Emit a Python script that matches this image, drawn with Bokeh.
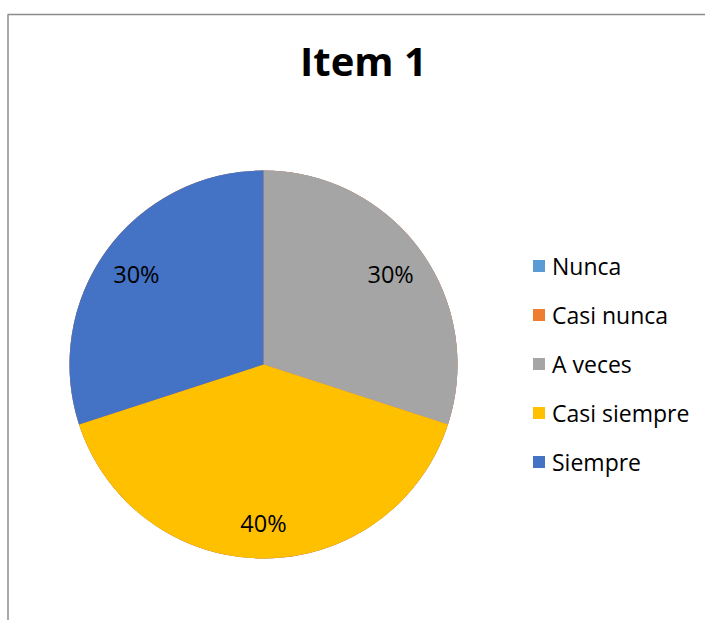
import numpy as np
from bokeh.plotting import figure
from bokeh.models import ColumnDataSource, Range1d, Legend, LegendItem, Label
from bokeh.core.properties import value
from bokeh.embed import file_html
from bokeh.resources import INLINE

# ---- data ----
categories = ["Nunca", "Casi nunca", "A veces", "Casi siempre", "Siempre"]
percents = [0, 0, 30, 40, 30]
colors = ["#5B9BD5", "#ED7D31", "#A5A5A5", "#FFC000", "#4472C4"]
chart_title = "Item 1"

# ---- layout ----
W, H = 705, 620
CX, CY, R = 263, H - 364, 194
LABEL_R = 0.81

vals = np.array(percents, dtype=float)
frac = vals / vals.sum()
cum_after = np.cumsum(frac)
cum_before = cum_after - frac
start = np.pi / 2 - 2 * np.pi * cum_before
end = np.pi / 2 - 2 * np.pi * cum_after
mid = (start + end) / 2

src = ColumnDataSource(dict(cat=categories, val=percents, color=colors,
                            start=start.tolist(), end=end.tolist()))

p = figure(width=W, height=H, x_range=Range1d(0, W), y_range=Range1d(0, H),
           output_backend="svg", toolbar_location=None, min_border=0,
           x_axis_type=None, y_axis_type=None)
p.grid.visible = False
p.outline_line_color = None
p.background_fill_color = "white"
p.border_fill_color = "white"

# frame lines (top and left border of the chart area)
p.line(x=[7.5, 7.5, W], y=[0, H - 14, H - 14], line_color="#8c8c8c", line_width=1.5)

wr = p.wedge(x=CX, y=CY, radius=R, start_angle="start", end_angle="end",
             direction="clock", fill_color="color", line_color=None, source=src)

# data labels (non-zero slices only)
nz = [i for i, v in enumerate(percents) if v > 0]
lab_src = ColumnDataSource(dict(
    x=[CX + LABEL_R * R * np.cos(mid[i]) for i in nz],
    y=[CY + LABEL_R * R * np.sin(mid[i]) for i in nz],
    txt=[f"{percents[i]}%" for i in nz]))
p.text(x="x", y="y", text="txt", source=lab_src, text_align="center",
       text_baseline="alphabetic", y_offset=1.5,
       text_font=value("Open Sans"), text_font_size="23.5px", text_color="#000000")

# title
p.add_layout(Label(x=363, y=H - 60, text=chart_title, text_align="center",
                   text_baseline="alphabetic", text_font="Open Sans",
                   text_font_style="bold", text_font_size="40px", text_color="#000000"))

legend = Legend(items=[LegendItem(label=c, renderers=[wr], index=i) for i, c in enumerate(categories)],
                location=(531, H - 477.5), orientation="vertical",
                glyph_width=15, glyph_height=15, label_height=15,
                label_standoff=6, spacing=17, padding=0, margin=0,
                border_line_color=None, background_fill_alpha=0,
                label_text_font="Open Sans", label_text_font_size="23px",
                label_text_color="#000000")
p.add_layout(legend)

open("out.html", "w").write(file_html(p, INLINE))
